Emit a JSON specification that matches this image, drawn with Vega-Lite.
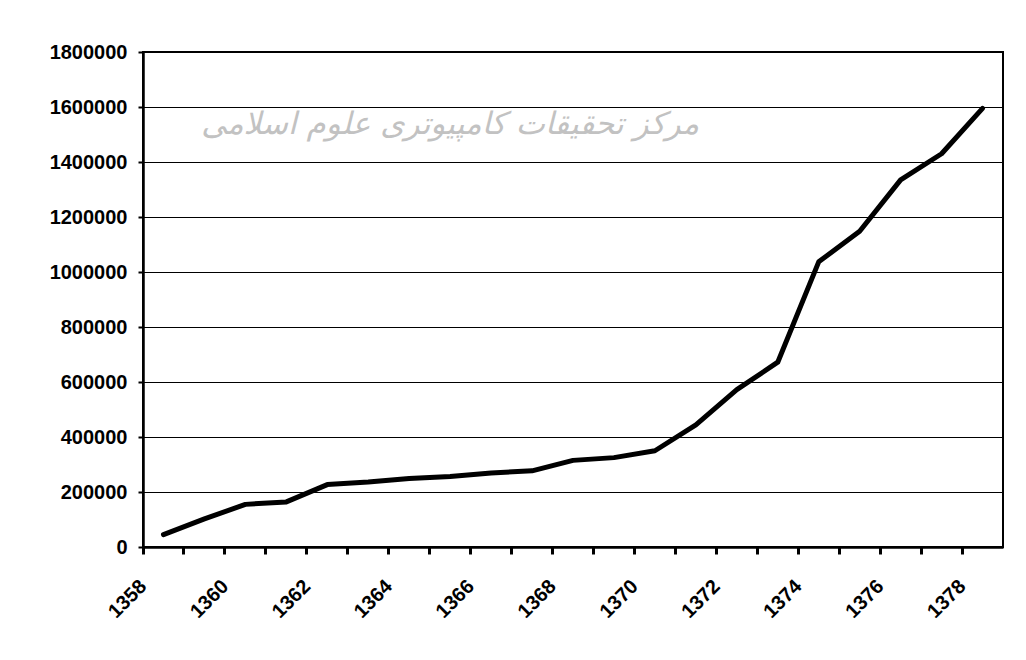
{
  "$schema": "https://vega.github.io/schema/vega-lite/v6.json",
  "autosize": {"type": "none"},
  "width": 860,
  "height": 495,
  "padding": {"left": 143, "top": 52, "right": 23, "bottom": 113},
  "background": "white",
  "config": {
    "view": {"stroke": "black", "strokeWidth": 2},
    "font": "Liberation Sans"
  },
  "resolve": {"axis": {"x": "independent"}},
  "layer": [
    {
      "data": {"values": [{"label": "مرکز تحقیقات کامپیوتری علوم اسلامی"}]},
      "mark": {"type": "text", "font": "DejaVu Sans", "fontSize": 31, "fontStyle": "italic", "color": "#c2c2c2", "align": "center", "baseline": "middle"},
      "encoding": {
        "x": {
          "datum": 1365,
          "type": "ordinal",
          "bandPosition": 0.5,
          "axis": {
            "orient": "bottom",
            "title": null,
            "bandPosition": 0,
            "values": [1358, 1359, 1360, 1361, 1362, 1363, 1364, 1365, 1366, 1367, 1368, 1369, 1370, 1371, 1372, 1373, 1374, 1375, 1376, 1377, 1378],
            "labels": false,
            "domain": false,
            "grid": false,
            "ticks": true,
            "tickSize": 7,
            "tickColor": "black",
            "tickWidth": 3
          }
        },
        "y": {"datum": 1535000, "type": "quantitative"},
        "text": {"field": "label"}
      }
    },
    {
      "data": {"values": [
        {"year": 1358, "value": 45000},
        {"year": 1359, "value": 102000},
        {"year": 1360, "value": 155000},
        {"year": 1361, "value": 164000},
        {"year": 1362, "value": 227000},
        {"year": 1363, "value": 236000},
        {"year": 1364, "value": 249000},
        {"year": 1365, "value": 256000},
        {"year": 1366, "value": 269000},
        {"year": 1367, "value": 277000},
        {"year": 1368, "value": 315000},
        {"year": 1369, "value": 325000},
        {"year": 1370, "value": 350000},
        {"year": 1371, "value": 444000},
        {"year": 1372, "value": 572000},
        {"year": 1373, "value": 672000},
        {"year": 1374, "value": 1037000},
        {"year": 1375, "value": 1148000},
        {"year": 1376, "value": 1335000},
        {"year": 1377, "value": 1430000},
        {"year": 1378, "value": 1595000}
      ]},
      "mark": {"type": "line", "color": "black", "strokeWidth": 5, "strokeJoin": "round", "strokeCap": "round"},
      "encoding": {
        "x": {
          "field": "year",
          "type": "ordinal",
          "bandPosition": 0.5,
          "scale": {"type": "band", "paddingInner": 0, "paddingOuter": 0},
          "axis": {
            "orient": "bottom",
            "title": null,
            "values": [1358, 1360, 1362, 1364, 1366, 1368, 1370, 1372, 1374, 1376, 1378],
            "labelAngle": -45,
            "labelAlign": "right",
            "labelBaseline": "middle",
            "labelOffset": -20,
            "labelPadding": 36,
            "labelOverlap": false,
            "labelFontSize": 20,
            "labelFontWeight": "bold",
            "labelColor": "black",
            "ticks": false,
            "tickSize": 0,
            "domainColor": "black",
            "domainWidth": 2.5,
            "grid": false
          }
        },
        "y": {
          "field": "value",
          "type": "quantitative",
          "scale": {"domain": [0, 1800000], "nice": false},
          "axis": {
            "title": null,
            "values": [0, 200000, 400000, 600000, 800000, 1000000, 1200000, 1400000, 1600000, 1800000],
            "format": "d",
            "labelFontSize": 20,
            "labelFontWeight": "bold",
            "labelColor": "black",
            "labelPadding": 11,
            "tickSize": 5,
            "tickColor": "black",
            "tickWidth": 2,
            "domainColor": "black",
            "domainWidth": 2.5,
            "grid": true,
            "gridColor": "black",
            "gridWidth": 1.2
          }
        }
      }
    }
  ]
}
